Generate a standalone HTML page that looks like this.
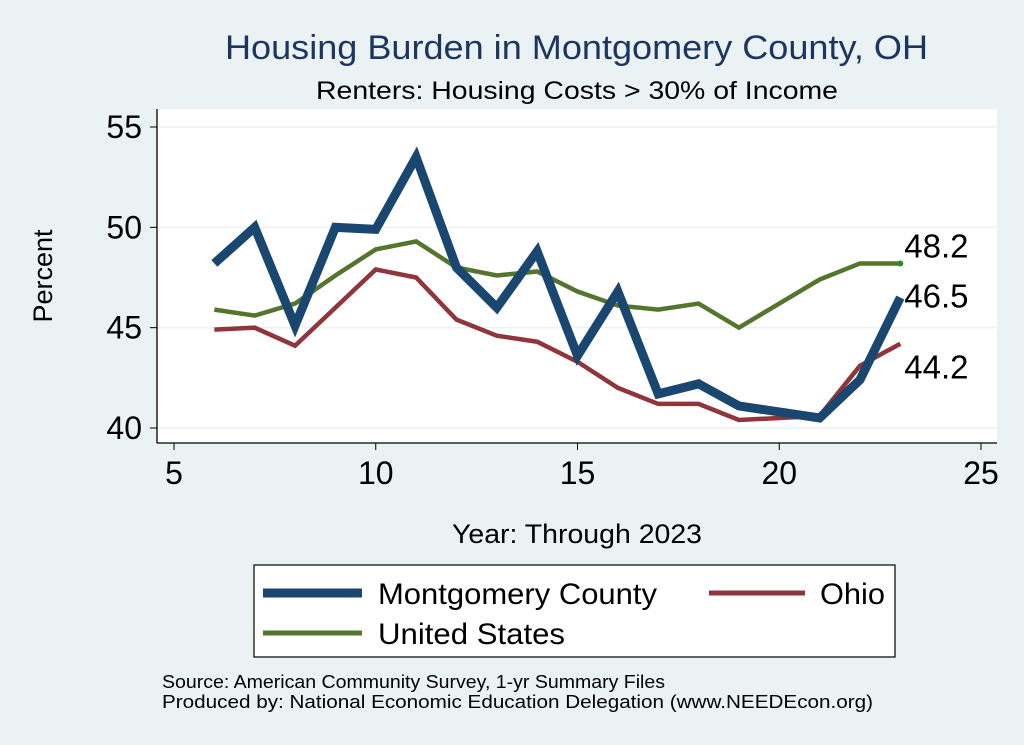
<!DOCTYPE html>
<html><head><meta charset="utf-8"><style>
body{margin:0;background:#eaf2f3;}
svg{display:block;font-family:"Liberation Sans",Arial,sans-serif;}
</style></head><body>
<svg id="chart" width="1024" height="745" viewBox="0 0 1024 745">
<rect x="0" y="0" width="1024" height="745" fill="#eaf2f3"/>
<text x="225" y="59" font-size="34" fill="#1e3560" textLength="703" lengthAdjust="spacingAndGlyphs">Housing Burden in Montgomery County, OH</text>
<text x="316" y="99" font-size="25" fill="#000" textLength="522" lengthAdjust="spacingAndGlyphs">Renters: Housing Costs &gt; 30% of Income</text>
<rect x="157" y="109" width="840" height="334" fill="#fff"/>
<g id="grid"></g>
<g id="axes"></g>
<g id="series"></g>
<text transform="translate(52,276) rotate(-90)" font-size="27" text-anchor="middle">Percent</text>
<text x="452" y="543" font-size="27" textLength="250" lengthAdjust="spacingAndGlyphs">Year: Through 2023</text>
<g>
<rect x="254" y="565" width="641" height="92" fill="#fff" stroke="#000" stroke-width="1.2"/>
<line x1="263" y1="593" x2="362" y2="593" stroke="#1a476f" stroke-width="9"/>
<text x="378" y="604" font-size="30" textLength="279" lengthAdjust="spacingAndGlyphs">Montgomery County</text>
<line x1="709" y1="593" x2="805" y2="593" stroke="#90353b" stroke-width="5"/>
<text x="820" y="604" font-size="30" textLength="65" lengthAdjust="spacingAndGlyphs">Ohio</text>
<line x1="263" y1="633" x2="362" y2="633" stroke="#55752f" stroke-width="5"/>
<text x="378" y="644" font-size="30" textLength="187" lengthAdjust="spacingAndGlyphs">United States</text>
</g>
<text x="162" y="688" font-size="18" textLength="503" lengthAdjust="spacingAndGlyphs">Source: American Community Survey, 1-yr Summary Files</text>
<text x="162" y="708" font-size="18" textLength="711" lengthAdjust="spacingAndGlyphs">Produced by: National Economic Education Delegation (www.NEEDEcon.org)</text>
</svg>
<script>
const years=[6,7,8,9,10,11,12,13,14,15,16,17,18,19,20,21,22,23];
const montgomery=[48.2,50.0,45.1,50.0,49.9,53.5,48.0,46.0,48.8,43.6,46.8,41.7,42.2,41.1,40.8,40.5,42.4,46.5];
const ohio=[44.9,45.0,44.1,46.0,47.9,47.5,45.4,44.6,44.3,43.3,42.0,41.2,41.2,40.4,40.5,40.6,43.1,44.2];
const us=[45.9,45.6,46.2,47.6,48.9,49.3,48.0,47.6,47.8,46.8,46.1,45.9,46.2,45.0,46.2,47.4,48.2,48.2];
const xTicks=[5,10,15,20,25];
const yTicks=[40,45,50,55];
const NS="http://www.w3.org/2000/svg";
function xs(v){return 174+(v-5)*(981-174)/20;}
function ys(v){return 428-(v-40)*(428-127)/15;}
function mk(t,a,p){const e=document.createElementNS(NS,t);for(const k in a)e.setAttribute(k,a[k]);p.appendChild(e);return e;}
const grid=document.getElementById('grid'),axes=document.getElementById('axes'),ser=document.getElementById('series');
yTicks.forEach(v=>{
 const g=mk('line',{x1:157,x2:997,y1:ys(v),y2:ys(v),stroke:'#eaf2f3','stroke-width':1.5},grid);
 
 
 const t=mk('line',{x1:150,x2:157,y1:ys(v),y2:ys(v),stroke:'#000','stroke-width':1},axes);
 
 
 const l=mk('text',{x:142,y:ys(v)+11,'font-size':32,'text-anchor':'end'},axes);l.textContent=v;
 
 
});
xTicks.forEach(v=>{
 const t=mk('line',{x1:xs(v),x2:xs(v),y1:443,y2:450,stroke:'#000','stroke-width':1},axes);
 
 
 const l=mk('text',{x:xs(v),y:484,'font-size':32,'text-anchor':'middle'},axes);l.textContent=v;
 
 
});
const ya=mk('line',{x1:157,x2:157,y1:109,y2:443,stroke:'#000','stroke-width':1.3},axes);


const xa=mk('line',{x1:157,x2:997,y1:443,y2:443,stroke:'#000','stroke-width':1.3},axes);


function line(vals,color,w,name){
 const p=mk('polyline',{points:vals.map((v,i)=>xs(years[i])+','+ys(v)).join(' '),fill:'none',stroke:color,'stroke-width':w,'stroke-linejoin':'miter'},ser);
 
 
}
line(us,'#55752f',4.5,'line-united-states');
line(ohio,'#90353b',4.5,'line-ohio');
line(montgomery,'#1a476f',9,'line-montgomery-county');
const last=years.length-1;
const dot=mk('circle',{cx:xs(years[last]),cy:ys(us[last]),r:3,fill:'#2a8a2a'},ser);


[[us,'label-us-end',-6],[montgomery,'label-montgomery-end',10],[ohio,'label-ohio-end',35]].forEach(([arr,n,dy])=>{
 const t=mk('text',{x:xs(years[last])+4,y:ys(arr[last])+dy,'font-size':33},ser);
 t.textContent=arr[last].toFixed(1);
 
 
});
</script>
</body></html>
